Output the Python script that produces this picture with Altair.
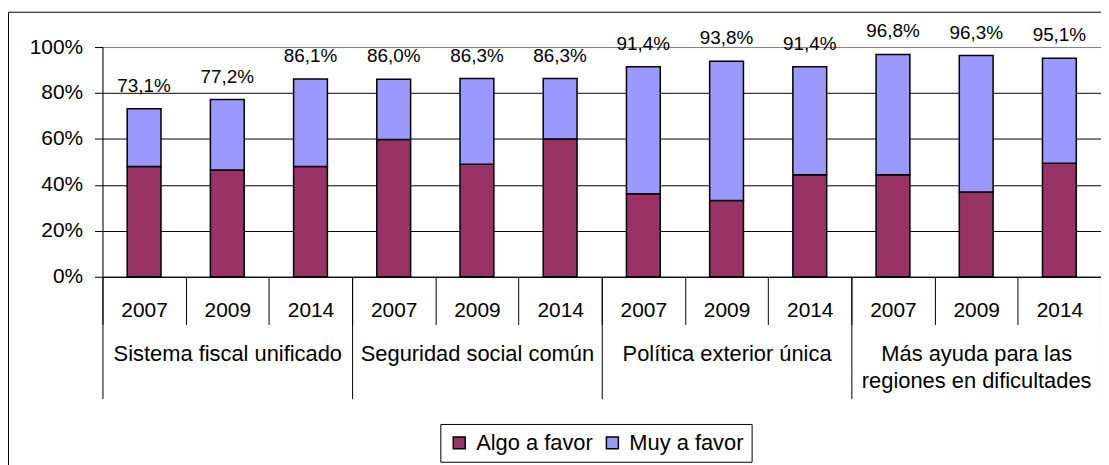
import altair as alt
import pandas as pd

FONT = "Liberation Sans"

grupos = ["Sistema fiscal unificado", "Seguridad social común",
          "Política exterior única", "Más ayuda para las|regiones en dificultades"]
anios = ["2007", "2009", "2014"]
algo = [48.0, 46.5, 48.0, 59.8, 49.0, 60.0, 36.1, 33.2, 44.4, 44.4, 36.9, 49.4]
total = [73.1, 77.2, 86.1, 86.0, 86.3, 86.3, 91.4, 93.8, 91.4, 96.8, 96.3, 95.1]
series = ["Algo a favor", "Muy a favor"]
colores = ["#993366", "#9999FF"]

keys, rows, lab_rows = [], [], []
for gi, g in enumerate(grupos):
    for ai, a in enumerate(anios):
        i = gi * 3 + ai
        k = f"{gi}|{a}"
        keys.append(k)
        rows.append(dict(key=k, serie=series[0], valor=algo[i], orden=0))
        rows.append(dict(key=k, serie=series[1], valor=round(total[i] - algo[i], 1), orden=1))
        lab_rows.append(dict(key=k, total=total[i],
                             label=f"{total[i]:.1f}".replace(".", ",") + "%"))

df = pd.DataFrame(rows)
dl = pd.DataFrame(lab_rows)
dg = pd.DataFrame({"grupo": grupos})

x_enc = alt.X("key:N", sort=keys, title=None,
              scale=alt.Scale(type="band", paddingInner=0, paddingOuter=0),
              axis=alt.Axis(labelExpr="split(datum.label, '|')[1]", labelAngle=0,
                            tickBand="extent", tickSize=48, tickColor="black",
                            domainColor="black", labelPadding=-25, labelFontSize=21,
                            labelFont=FONT, labelColor="black", labelOverlap=False,
                            labelBaseline="top", grid=False))

y_scale = alt.Scale(domain=[0, 100], nice=False)
y_axis = alt.Axis(values=[0, 20, 40, 60, 80, 100], labelExpr="datum.value + '%'",
                  tickSize=8, tickColor="black", domainColor="black",
                  gridColor=alt.condition("datum.value == 100", alt.value("#808080"), alt.value("black")),
                  gridWidth=1, labelPadding=12, labelFontSize=21,
                  labelColor="black", labelFont=FONT)

bars = alt.Chart(df).mark_bar(size=34, stroke="black", strokeWidth=1.5).encode(
    x=x_enc,
    y=alt.Y("valor:Q", stack="zero", title=None, scale=y_scale, axis=y_axis),
    color=alt.Color("serie:N", scale=alt.Scale(domain=series, range=colores),
                    legend=alt.Legend(title=None, orient="none", legendX=339.7, legendY=379,
                                      direction="horizontal", symbolType="square",
                                      symbolSize=144, symbolStrokeColor="black",
                                      symbolStrokeWidth=1.5, symbolOpacity=1,
                                      labelFontSize=22, labelFont=FONT, labelColor="black",
                                      labelExpr="datum.label == 'Muy a favor' ? datum.label + '\u00a0\u00a0\u00a0\u00a0\u00a0\u00a0\u00a0\u00a0' : datum.label",
                                      labelLimit=300,
                                      labelOffset=6, columnPadding=8, padding=8,
                                      strokeColor="black", fillColor="white")),
    order=alt.Order("orden:Q"),
)

labels = alt.Chart(dl).mark_text(baseline="alphabetic", dy=-17, fontSize=19,
                                 font=FONT, color="black").encode(
    x=x_enc,
    y=alt.Y("total:Q", title=None, scale=y_scale, axis=y_axis),
    text="label:N",
)

grp = alt.Chart(dg).mark_point(opacity=0).encode(
    x=alt.X("grupo:N", sort=grupos, title=None,
            scale=alt.Scale(type="band", paddingInner=0, paddingOuter=0),
            axis=alt.Axis(orient="bottom", labelExpr="split(datum.label, '|')",
                          tickBand="extent", tickSize=122.5, tickColor="black",
                          domain=False, labelPadding=-55, labelFontSize=22,
                          labelLineHeight=27, labelBaseline="top", labelLimit=0,
                          labelOverlap=False, labelAngle=0, grid=False,
                          labelColor="black", labelFont=FONT))
)

bdf = pd.DataFrame({"d": [0]})
top_line = alt.Chart(bdf).mark_rule(color="black", strokeWidth=1).encode(
    x=alt.value(-94.5), x2=alt.value(1010), y=alt.value(-35))
left_line = alt.Chart(bdf).mark_rule(color="black", strokeWidth=1).encode(
    x=alt.value(-94.5), y=alt.value(-35), y2=alt.value(430))

chart = alt.layer(alt.layer(bars, labels), grp, top_line, left_line).resolve_scale(
    x="independent"
).properties(
    width=1004, height=231,
    autosize=alt.AutoSizeParams(type="none"),
    padding={"left": 95, "top": 38, "right": 0, "bottom": 188},
).configure_view(stroke="#808080", strokeWidth=1).configure(font=FONT)

chart.save("out.html", embed_options={"renderer": "svg", "actions": False})
